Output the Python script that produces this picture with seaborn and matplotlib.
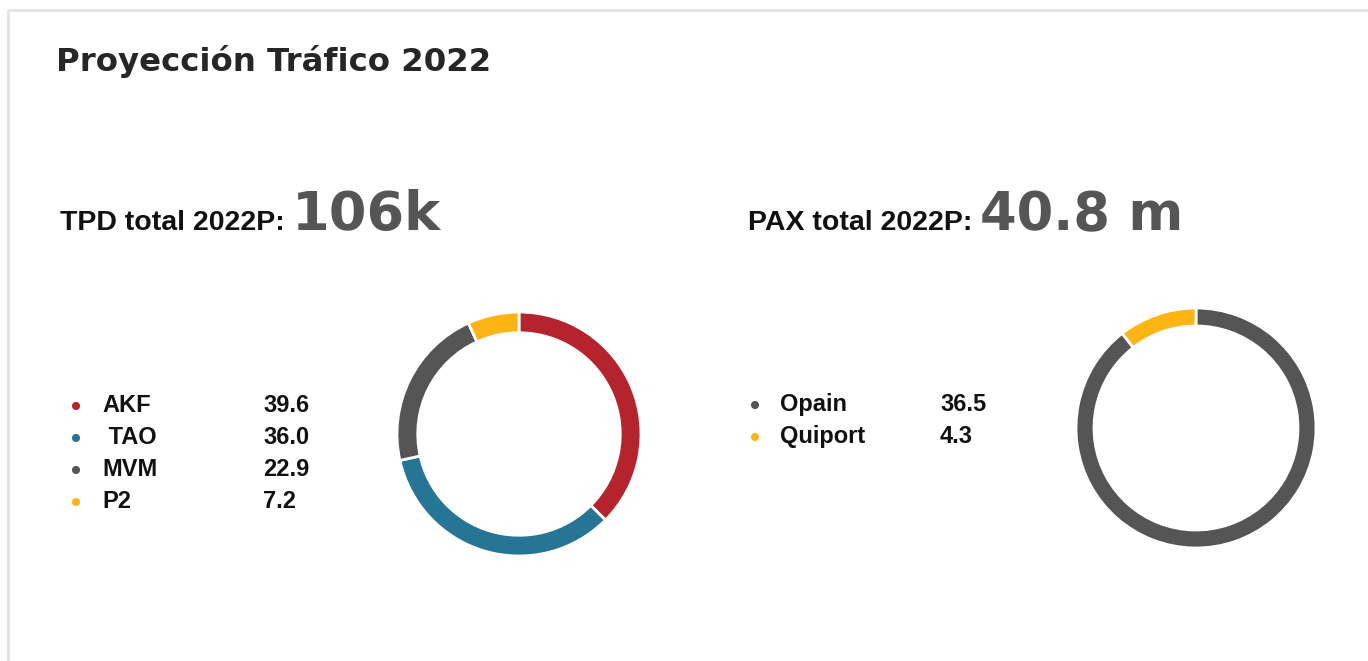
import matplotlib
matplotlib.use("Agg")
import matplotlib.pyplot as plt
from matplotlib import font_manager
from matplotlib.patches import Rectangle
import pandas as pd
import seaborn as sns

# datos
TITLE = "Proyección Tráfico 2022"

TPD_LABEL = "TPD total 2022P:"
TPD_TOTAL = "106k"
TPD_NAMES = ["AKF", " TAO", "MVM", "P2"]
TPD_VALUES = [39.6, 36.0, 22.9, 7.2]
TPD_COLORS = ["#b5232c", "#267595", "#555555", "#fdb515"]

PAX_LABEL = "PAX total 2022P:"
PAX_TOTAL = "40.8 m"
PAX_NAMES = ["Opain", "Quiport"]
PAX_VALUES = [36.5, 4.3]
PAX_COLORS = ["#555555", "#fdb515"]

W, H = 1368, 661

sns.set_theme(style="white")

installed = {f.name for f in font_manager.fontManager.ttflist}
NARROW = "Liberation Sans Narrow" if "Liberation Sans Narrow" in installed else "Liberation Sans"
LABEL_SIZE = 23 if NARROW == "Liberation Sans Narrow" else 20.5
ROW_SIZE = 19 if NARROW == "Liberation Sans Narrow" else 17
plt.rcParams["font.family"] = ["Liberation Sans", "DejaVu Sans"]


def draw_legend(ax, names, values, colors, dot_x, name_x, value_x, base_y):
    rows = [base_y + i * 32 for i in range(len(names))]
    df = pd.DataFrame({"x": [dot_x] * len(names), "y": [r - 6 for r in rows], "name": names})
    sns.scatterplot(data=df, x="x", y="y", hue="name", palette=colors, s=34,
                    edgecolor="none", legend=False, ax=ax)
    for name, val, y in zip(names, values, rows):
        ax.text(name_x, y, name, fontsize=ROW_SIZE, fontweight="bold", family=NARROW,
                color="#111111", va="baseline", ha="left")
        ax.text(value_x, y, f"{val:.1f}", fontsize=ROW_SIZE, fontweight="bold", family=NARROW,
                color="#111111", va="baseline", ha="left")


def draw_donut(fig, values, colors, cx, cy, radius, width):
    box = radius + 4
    ax = fig.add_axes([(cx - box) / W, (H - cy - box) / H, 2 * box / W, 2 * box / H])
    ax.pie(values, colors=colors, startangle=90, counterclock=False, radius=radius / box,
           wedgeprops=dict(width=width * radius / box, edgecolor="white", linewidth=2))
    ax.set_xlim(-1, 1)
    ax.set_ylim(-1, 1)
    ax.set_aspect("equal")
    ax.axis("off")
    return ax


fig = plt.figure(figsize=(W / 100, H / 100), dpi=100)
fig.patch.set_facecolor("white")

over = fig.add_axes([0, 0, 1, 1])
over.set_xlim(0, W)
over.set_ylim(H, 0)
over.axis("off")
over.patch.set_alpha(0)

# marco de la tarjeta
over.add_patch(Rectangle((8, 10), W + 20, H + 20, fill=False, edgecolor="#e2e2e2", linewidth=2))

over.text(56, 71, TITLE, fontsize=23.3, fontweight="bold", family="DejaVu Sans",
          color="#262626", va="baseline")

over.text(60, 230, TPD_LABEL, fontsize=LABEL_SIZE, fontweight="bold", family=NARROW,
          color="#111111", va="baseline")
over.text(292, 230, TPD_TOTAL, fontsize=39, fontweight="bold", family="DejaVu Sans",
          color="#555555", va="baseline")
over.text(748, 230, PAX_LABEL, fontsize=LABEL_SIZE, fontweight="bold", family=NARROW,
          color="#111111", va="baseline")
over.text(980, 230, PAX_TOTAL, fontsize=38, fontweight="bold", family="DejaVu Sans",
          color="#555555", va="baseline")

draw_legend(over, TPD_NAMES, TPD_VALUES, TPD_COLORS, 76, 102, 263, 412)
draw_legend(over, PAX_NAMES, PAX_VALUES, PAX_COLORS, 755, 780, 940, 411)

draw_donut(fig, TPD_VALUES, TPD_COLORS, 519, 434, 122, 0.17)
draw_donut(fig, PAX_VALUES, PAX_COLORS, 1196, 428, 120, 0.15)

fig.savefig("out.png", dpi=100)
